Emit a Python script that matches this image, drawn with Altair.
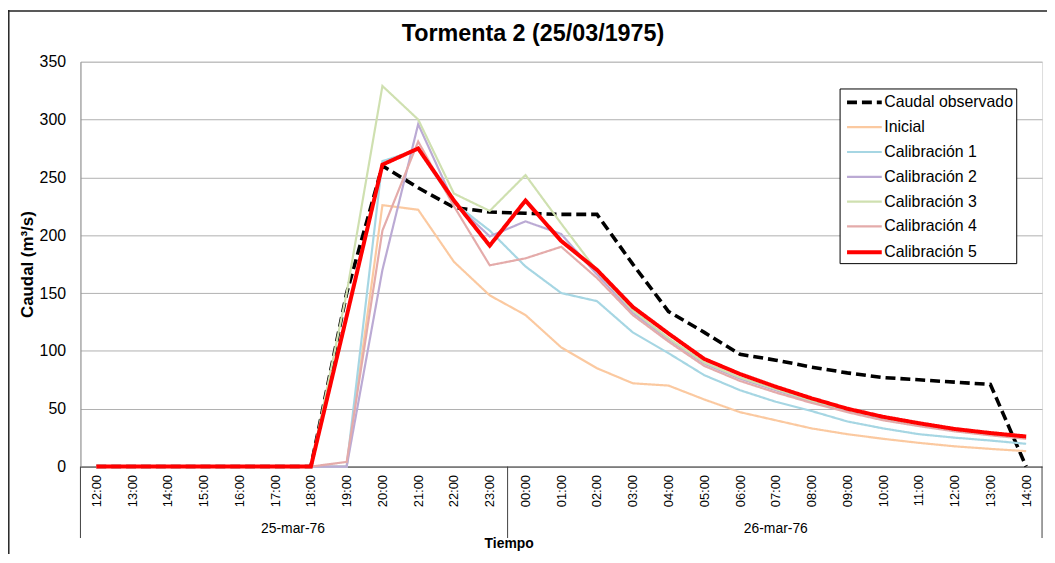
import altair as alt
import pandas as pd

hours = ["12:00", "13:00", "14:00", "15:00", "16:00", "17:00", "18:00", "19:00",
         "20:00", "21:00", "22:00", "23:00", "00:00", "01:00", "02:00", "03:00",
         "04:00", "05:00", "06:00", "07:00", "08:00", "09:00", "10:00", "11:00",
         "12:00", "13:00", "14:00"]
dates = ["25-mar-76", "26-mar-76"]
date_centers = [5.5, 19.0]
series_names = ["Caudal observado", "Inicial", "Calibración 1", "Calibración 2",
                "Calibración 3", "Calibración 4", "Calibración 5"]

observed = [0, 0, 0, 0, 0, 0, 0, 150, 260, 241, 224, 220, 219, 218, 218, 175, 134,
            116, 97, 92, 86, 81, 77, 75, 73, 71, 0]
inicial = [0, 0, 0, 0, 0, 0, 0, 0, 226, 222, 177, 148, 131, 103, 85, 72, 70, 58, 47,
           40, 33, 28, 24, 20.5, 17.5, 15.3, 13.3]
cal1 = [0, 0, 0, 0, 0, 0, 0, 0, 264, 274, 228, 204, 173, 150, 143, 116, 98, 79, 66,
        56, 48, 39, 33, 28, 25, 22.5, 19.7]
cal2 = [0, 0, 0, 0, 0, 0, 0, 0, 170, 296, 228, 199, 212, 201, 166, 133, 110, 89, 76,
        66, 56, 48, 41, 35.5, 31, 27.5, 25]
cal3 = [0, 0, 0, 0, 0, 0, 0, 150, 329, 300, 236, 221, 252, 210, 169, 135, 111, 90, 77,
        67, 57, 49, 42, 36, 31.5, 28, 25]
cal4 = [0, 0, 0, 0, 0, 0, 0, 4, 204, 281, 225, 174, 180, 190, 163, 131, 108, 87, 74,
        64, 55, 47, 40, 35, 30.5, 27, 24]
cal5 = [0, 0, 0, 0, 0, 0, 0, 130, 261, 275, 230, 191, 230, 195, 170, 138, 115, 93, 80,
        69, 59, 50, 43, 37.5, 32.5, 29, 26]

colors = ["#000000", "#FBC9A0", "#A6D6E3", "#BBAAD4", "#CFE0B0", "#E4ABAA", "#FF0000"]
dashes = [[10, 5], [1, 0], [1, 0], [1, 0], [1, 0], [1, 0], [1, 0]]
widths = [3.6, 2.2, 2.2, 2.2, 2.2, 2.2, 4]

FONT = "Liberation Sans"

rows = []
for name, vals in zip(series_names, [observed, inicial, cal1, cal2, cal3, cal4, cal5]):
    for i, v in enumerate(vals):
        rows.append({"serie": name, "i": i, "caudal": v})
df = pd.DataFrame(rows)

label_expr = "[" + ",".join("'%s'" % h for h in hours) + "][datum.value]"
pad = 0.444
x_scale = alt.Scale(domain=[-pad, len(hours) - 1 + pad], nice=False, zero=False)
x_axis = alt.Axis(values=list(range(len(hours))), labelExpr=label_expr,
                  labelAngle=270, labelOverlap=False, labelFlush=False,
                  labelBound=False,
                  title=None, grid=False, ticks=False, tickSize=0,
                  labelPadding=8, labelFont=FONT, labelFontSize=13,
                  labelColor="black", domainColor="#404040")

legend = alt.Legend(title=None, orient="none", legendX=765, legendY=27,
                    fillColor="white", strokeColor="#000000", padding=3,
                    labelFont=FONT, labelFontSize=16, labelColor="black",
                    symbolType="M-2,0H2", symbolSize=306, symbolOffset=11,
                    rowPadding=7, labelOffset=9, labelLimit=300)

lines = alt.Chart(df).mark_line().encode(
    x=alt.X("i:Q", scale=x_scale, axis=x_axis),
    y=alt.Y("caudal:Q", scale=alt.Scale(domain=[0, 350], nice=False),
            axis=alt.Axis(values=list(range(0, 351, 50)), title="Caudal (m³/s)",
                          titleFont=FONT, titleFontSize=17, titleFontWeight="bold",
                          titleColor="black", titlePadding=3,
                          labelFont=FONT, labelFontSize=16, labelColor="black",
                          ticks=False, tickSize=0, labelPadding=15,
                          gridColor="#B0B0B0", domainColor="#8C8C8C")),
    color=alt.Color("serie:N", scale=alt.Scale(domain=series_names, range=colors),
                    legend=legend),
    strokeDash=alt.StrokeDash("serie:N", scale=alt.Scale(domain=series_names, range=dashes),
                              legend=legend),
    strokeWidth=alt.StrokeWidth("serie:N",
                                scale=alt.Scale(type="ordinal", domain=series_names, range=widths),
                                legend=legend),
)

dates_df = pd.DataFrame({"fecha": dates, "pos": date_centers})
date_text = alt.Chart(dates_df).mark_text(font=FONT, fontSize=14, color="black",
                                           baseline="middle").encode(
    x=alt.X("pos:Q", scale=x_scale, axis=x_axis), y=alt.value(471), text="fecha:N")

sep_df = pd.DataFrame({"pos": [-pad, 11.5, len(hours) - 1 + pad]})
seps = alt.Chart(sep_df).mark_rule(color="#404040", strokeWidth=1).encode(
    x=alt.X("pos:Q", scale=x_scale, axis=x_axis), y=alt.value(408), y2=alt.value(480))

one = pd.DataFrame({"t": ["Tiempo"], "title": ["Tormenta 2 (25/03/1975)"]})
tiempo = alt.Chart(one).mark_text(font=FONT, fontSize=14, fontWeight="bold",
                                  color="black", baseline="alphabetic").encode(
    x=alt.value(432), y=alt.value(490), text="t:N")
title = alt.Chart(one).mark_text(font=FONT, fontSize=23.5, fontWeight="bold",
                                 color="black", baseline="alphabetic").encode(
    x=alt.value(456), y=alt.value(-21), text="title:N")

border_left = alt.Chart(one).mark_rule(color="#222222", strokeWidth=1.5).encode(
    x=alt.value(-72.2), y=alt.value(-52), y2=alt.value(496))
border_top = alt.Chart(one).mark_rule(color="#222222", strokeWidth=1.5).encode(
    x=alt.value(-73), x2=alt.value(980), y=alt.value(-51.2))

chart = alt.layer(lines, date_text, seps, tiempo, title, border_left, border_top).properties(
    width=969, height=408,
    padding={"left": 73, "top": 52, "right": 5, "bottom": 87},
    autosize=alt.AutoSizeParams(type="none"),
).configure_view(stroke="#8C8C8C", strokeWidth=1).configure_axisX(
    labelOverlap=False).configure(background="white")

chart.save("out.html", embed_options={"renderer": "svg", "actions": False})
